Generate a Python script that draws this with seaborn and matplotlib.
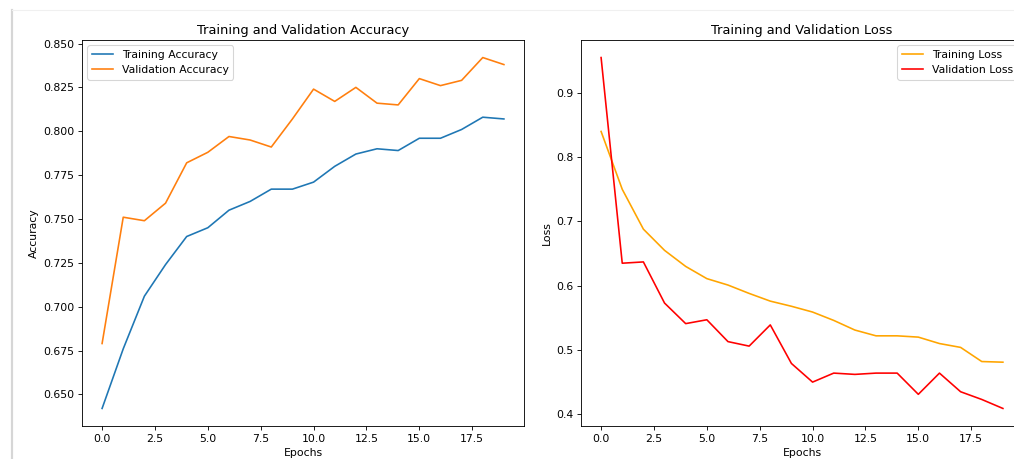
import numpy as np
import pandas as pd
import matplotlib
matplotlib.use("Agg")
import matplotlib.pyplot as plt
from matplotlib.lines import Line2D
import seaborn as sns

# training history (20 epochs)
epochs = list(range(20))
train_acc = [0.642, 0.676, 0.706, 0.724, 0.740, 0.745, 0.755, 0.760, 0.767, 0.767,
             0.771, 0.780, 0.787, 0.790, 0.789, 0.796, 0.796, 0.801, 0.808, 0.807]
val_acc = [0.679, 0.751, 0.749, 0.759, 0.782, 0.788, 0.797, 0.795, 0.791, 0.807,
           0.824, 0.817, 0.825, 0.816, 0.815, 0.830, 0.826, 0.829, 0.842, 0.838]
train_loss = [0.840, 0.750, 0.688, 0.655, 0.630, 0.611, 0.601, 0.588, 0.576, 0.568,
              0.559, 0.546, 0.531, 0.522, 0.522, 0.520, 0.510, 0.504, 0.482, 0.481]
val_loss = [0.955, 0.635, 0.637, 0.573, 0.541, 0.547, 0.513, 0.506, 0.539, 0.479,
            0.450, 0.464, 0.462, 0.464, 0.464, 0.431, 0.464, 0.435, 0.423, 0.409]

DPI = 78
fig = plt.figure(figsize=(1014 / DPI, 459 / DPI), dpi=DPI)

# screenshot frame remnants
fig.add_artist(Line2D([12 / 1014, 12 / 1014], [0, 1 - 10 / 459],
                      color="#d6d6d6", lw=2, transform=fig.transFigure))
fig.add_artist(Line2D([12 / 1014, 1], [1 - 10 / 459, 1 - 10 / 459],
                      color="#f0f0f0", lw=1, transform=fig.transFigure))

# ── accuracy ──
ax1 = fig.add_axes([82 / 1014, 33 / 459, 442 / 1014, 386 / 459])
sns.lineplot(x=epochs, y=train_acc, ax=ax1, color="#1f77b4", label="Training Accuracy")
sns.lineplot(x=epochs, y=val_acc, ax=ax1, color="#ff7f0e", label="Validation Accuracy")
ax1.set_title("Training and Validation Accuracy")
ax1.set_xlabel("Epochs")
ax1.set_ylabel("Accuracy")
ax1.legend(loc="upper left")

# ── loss ──
ax2 = fig.add_axes([581 / 1014, 33 / 459, 442 / 1014, 386 / 459])
sns.lineplot(x=epochs, y=train_loss, ax=ax2, color="orange", label="Training Loss")
sns.lineplot(x=epochs, y=val_loss, ax=ax2, color="red", label="Validation Loss")
ax2.set_title("Training and Validation Loss")
ax2.set_xlabel("Epochs")
ax2.set_ylabel("Loss")
ax2.legend(loc="upper right")

fig.savefig("out.png", dpi=DPI)
plt.close()
